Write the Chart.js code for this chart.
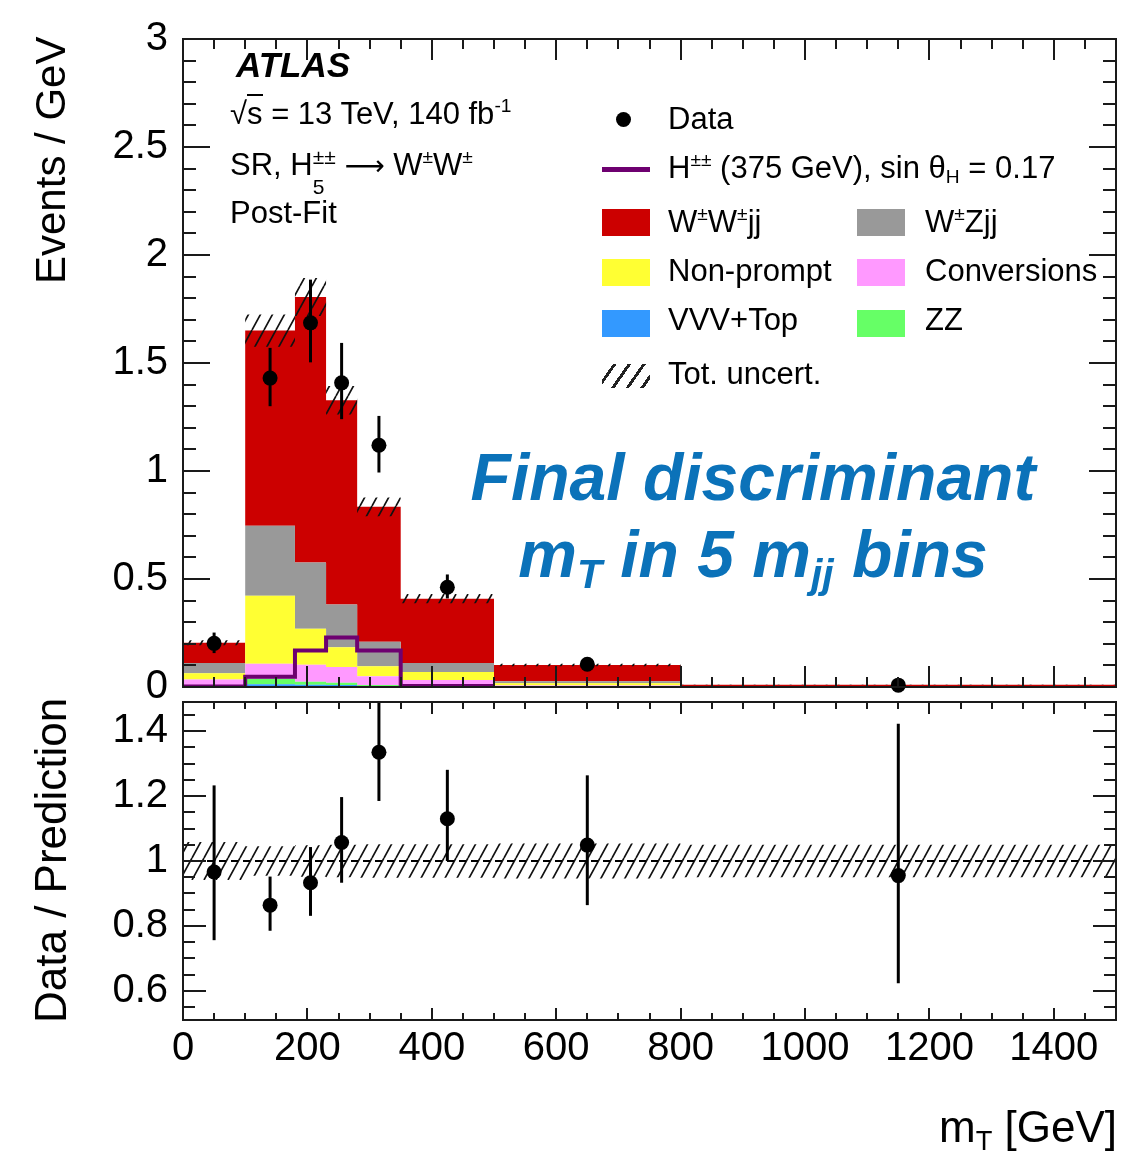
<!DOCTYPE html>
<html>
<head>
<meta charset="utf-8">
<script src="https://cdn.jsdelivr.net/npm/chart.js@4.4.1/dist/chart.umd.min.js"></script>
<style>
  html, body { margin: 0; padding: 0; background: #fff; }
  #wrap { position: relative; width: 1143px; height: 1154px; overflow: hidden; background: #fff; }
  canvas { position: absolute; left: 0; top: 0; }
  .t { position: absolute; white-space: nowrap; line-height: 1; color: #000;
       font-family: "Liberation Sans", Arial, Helvetica, sans-serif; font-size: 31px; }
  .t sup { font-size: 0.62em; vertical-align: 0.62em; line-height: 0; }
  .t sub { font-size: 0.62em; vertical-align: -0.28em; line-height: 0; }
  .ss { display: inline-block; font-size: 21px; line-height: 30px; vertical-align: -19px; }
  .arrow { font-family: "DejaVu Sans", sans-serif; font-size: 28px; }
  .sw { position: absolute; width: 48px; height: 27px; }
  .rot { transform-origin: left top; transform: rotate(-90deg); }
</style>
</head>
<body>
<div id="wrap">
  <canvas id="ratio" width="1143" height="1154"></canvas>
  <canvas id="main" width="1143" height="1154"></canvas>

  <!-- labels -->
  <div class="t" style="left:236px;top:47px;font-size:35px;font-weight:bold;font-style:italic;">ATLAS</div>
  <div class="t" style="left:230px;top:98px;">√<span style="border-top:2px solid #000;">s</span> = 13 TeV, 140 fb<sup>-1</sup></div>
  <div class="t" style="left:230px;top:142px;">SR, H<span class="ss">±±<br>5</span> <span class="arrow">⟶</span> W<sup>±</sup>W<sup>±</sup></div>
  <div class="t" style="left:230px;top:197px;">Post-Fit</div>

  <!-- legend -->
  <div style="position:absolute;left:616px;top:112px;width:15px;height:15px;border-radius:50%;background:#000;"></div>
  <div class="t" style="left:668px;top:103px;">Data</div>
  <div style="position:absolute;left:602px;top:167px;width:48px;height:5px;background:#6e0070;"></div>
  <div class="t" style="left:668px;top:152px;">H<sup>±±</sup> (375 GeV), sin θ<sub>H</sub> = 0.17</div>
  <div class="sw" style="left:602px;top:209px;background:#cc0000;"></div>
  <div class="t" style="left:668px;top:206px;">W<sup>±</sup>W<sup>±</sup>jj</div>
  <div class="sw" style="left:857px;top:209px;background:#999999;"></div>
  <div class="t" style="left:925px;top:206px;">W<sup>±</sup>Zjj</div>
  <div class="sw" style="left:602px;top:259px;background:#ffff33;"></div>
  <div class="t" style="left:668px;top:255px;">Non-prompt</div>
  <div class="sw" style="left:857px;top:259px;background:#ff99ff;"></div>
  <div class="t" style="left:925px;top:255px;">Conversions</div>
  <div class="sw" style="left:602px;top:310px;background:#3399ff;"></div>
  <div class="t" style="left:668px;top:304px;">VVV+Top</div>
  <div class="sw" style="left:857px;top:310px;background:#66ff66;"></div>
  <div class="t" style="left:925px;top:304px;">ZZ</div>
  <div class="sw" style="left:602px;top:364px;height:24px;background:repeating-linear-gradient(125deg, transparent 0 9px, #222 9px 12px);"></div>
  <div class="t" style="left:668px;top:358px;">Tot. uncert.</div>

  <!-- blue note -->
  <div class="t" style="left:353px;width:800px;text-align:center;top:444px;font-size:66px;font-weight:bold;font-style:italic;color:#0b72b9;">Final discriminant</div>
  <div class="t" style="left:353px;width:800px;text-align:center;top:521px;font-size:66px;font-weight:bold;font-style:italic;color:#0b72b9;">m<sub>T</sub> in 5 m<sub>jj</sub> bins</div>

  <!-- axis titles -->
  <div class="t rot" style="left:30px;top:284px;font-size:42px;">Events / GeV</div>
  <div class="t rot" style="left:29px;top:1023px;font-size:44px;">Data / Prediction</div>
  <div class="t" style="right:26px;top:1105px;font-size:44px;">m<sub>T</sub> [GeV]</div>
</div>

<script>
// ---------- DATA ----------
const binEdges = [0, 100, 180, 230, 280, 350, 500, 800, 1500];
const xTickLabels = [0, 200, 400, 600, 800, 1000, 1200, 1400];
const mainYTicks = [0, 0.5, 1, 1.5, 2, 2.5, 3];
const ratioYTicks = [0.6, 0.8, 1, 1.2, 1.4];

// backgrounds in events / GeV, stacked from the bottom up
const vvvTop = [0.004, 0.013, 0.010, 0.009, 0.005, 0.004, 0.001, 0.0002];
const zz = [0.004, 0.025, 0.014, 0.011, 0.004, 0.003, 0.001, 0.0002];
const conversions = [0.027, 0.070, 0.079, 0.073, 0.041, 0.025, 0.005, 0.0005];
const nonPrompt = [0.029, 0.315, 0.167, 0.091, 0.046, 0.038, 0.010, 0.0010];
const wzjj = [0.047, 0.323, 0.306, 0.198, 0.114, 0.041, 0.010, 0.0011];
const wwjj = [0.094, 0.904, 1.230, 0.946, 0.624, 0.298, 0.075, 0.0070];
const totUnc = [0.012, 0.075, 0.088, 0.066, 0.043, 0.021, 0.0055, 0.0005];

// signal H++ (375 GeV), not stacked
const signal = [0.002, 0.047, 0.169, 0.229, 0.169, 0.005, null, null];

// data
const dataY = [0.202, 1.430, 1.686, 1.408, 1.119, 0.462, 0.105, 0.0086];
const dataUp = [0.050, 0.140, 0.200, 0.185, 0.136, 0.059, 0.019, 0.0035];
const dataDn = [0.045, 0.130, 0.183, 0.168, 0.126, 0.052, 0.018, 0.0030];

// data / prediction
const ratioY = [0.966, 0.864, 0.933, 1.057, 1.335, 1.130, 1.049, 0.955];
const ratioHi = [1.233, 0.952, 1.043, 1.197, 1.490, 1.281, 1.264, 1.423];
const ratioLo = [0.756, 0.785, 0.831, 0.933, 1.185, 1.000, 0.864, 0.623];

// ---------- HELPERS ----------
const nBins = binEdges.length - 1;
const binCenters = binEdges.slice(0, -1).map((e, i) => (e + binEdges[i + 1]) / 2);

// histogram as stepped line: one point per left edge + closing point
function stepPoints(values) {
  const pts = [];
  let last = null;
  for (let i = 0; i < nBins; i++) {
    if (values[i] === null) break;
    pts.push({ x: binEdges[i], y: values[i] });
    last = i;
  }
  pts.push({ x: binEdges[last + 1], y: values[last] });
  return pts;
}

const components = [vvvTop, zz, conversions, nonPrompt, wzjj, wwjj];
const colors = ["#3399ff", "#66ff66", "#ff99ff", "#ffff33", "#999999", "#cc0000"];
const cumulative = [];
components.forEach((c, k) => {
  cumulative.push(c.map((v, i) => v + (k > 0 ? cumulative[k - 1][i] : 0)));
});
const total = cumulative[cumulative.length - 1];
const relUnc = total.map((t, i) => totUnc[i] / t);

function hatch() {
  const w = 12, h = 22;
  const c = document.createElement("canvas");
  c.width = w;
  c.height = h;
  const g = c.getContext("2d");
  g.strokeStyle = "#111";
  g.lineWidth = 1.7;
  g.beginPath();
  for (let k = -1; k <= 1; k++) {
    g.moveTo(k * w, h);
    g.lineTo(k * w + w, 0);
  }
  g.stroke();
  return document.getElementById("main").getContext("2d").createPattern(c, "repeat");
}
const pattern = hatch();

// ---------- PLUGINS ----------
const errorBars = {
  id: "errorBars",
  afterDatasetsDraw(chart, args, o) {
    const { ctx, chartArea: a, scales } = chart;
    ctx.save();
    ctx.beginPath();
    ctx.rect(a.left, a.top, a.right - a.left, a.bottom - a.top);
    ctx.clip();
    ctx.strokeStyle = "#000";
    ctx.lineWidth = 3;
    o.xs.forEach((xv, i) => {
      const px = scales.x.getPixelForValue(xv);
      ctx.beginPath();
      ctx.moveTo(px, scales.y.getPixelForValue(o.lo[i]));
      ctx.lineTo(px, scales.y.getPixelForValue(o.hi[i]));
      ctx.stroke();
    });
    ctx.restore();
  },
};

function isMultiple(v, step) {
  return Math.abs(v / step - Math.round(v / step)) < 1e-6;
}

const frameTicks = {
  id: "frameTicks",
  afterDraw(chart, args, o) {
    const { ctx, chartArea: a, scales } = chart;
    const x = scales.x, y = scales.y;
    ctx.save();
    ctx.strokeStyle = "#1a1a1a";
    ctx.lineWidth = 2;
    ctx.beginPath();
    for (let v = Math.ceil(x.min / o.xMinor) * o.xMinor; v <= x.max + 1e-9; v += o.xMinor) {
      const len = isMultiple(v, o.xMajor) ? o.xLen[0] : o.xLen[1];
      const px = Math.round(x.getPixelForValue(v));
      ctx.moveTo(px, a.bottom);
      ctx.lineTo(px, a.bottom - len);
      ctx.moveTo(px, a.top);
      ctx.lineTo(px, a.top + len);
    }
    for (let k = Math.ceil(y.min / o.yMinor - 1e-6); k * o.yMinor <= y.max + 1e-9; k++) {
      const v = k * o.yMinor;
      const len = isMultiple(v, o.yMajor) ? o.yLen[0] : o.yLen[1];
      const py = Math.round(y.getPixelForValue(v));
      ctx.moveTo(a.left, py);
      ctx.lineTo(a.left + len, py);
      ctx.moveTo(a.right, py);
      ctx.lineTo(a.right - len, py);
    }
    ctx.stroke();
    ctx.strokeRect(a.left, a.top, a.right - a.left, a.bottom - a.top);
    ctx.restore();
  },
};

Chart.defaults.font.family = '"Liberation Sans", Arial, Helvetica, sans-serif';
Chart.defaults.color = "#000";

const tickFont = { size: 40 };
const yAxisBase = {
  afterFit: (s) => { s.width = 183; },
  grid: { display: false, drawTicks: false },
  border: { display: false },
  ticks: { font: tickFont, padding: 15, callback: (v) => String(v) },
};

// ---------- MAIN PANEL ----------
const stackSets = components.map((c, k) => ({
  label: "stack" + k,
  data: stepPoints(cumulative[k]),
  stepped: "before",
  borderWidth: 0,
  pointRadius: 0,
  backgroundColor: colors[k],
  fill: k === 0 ? "origin" : "-1",
  order: 10 + k,
}));

new Chart(document.getElementById("main"), {
  type: "line",
  data: {
    datasets: [
      ...stackSets,
      {
        label: "uncLo",
        data: stepPoints(total.map((t, i) => t - totUnc[i])),
        stepped: "before",
        borderWidth: 0,
        pointRadius: 0,
        fill: false,
        order: 3,
      },
      {
        label: "uncHi",
        data: stepPoints(total.map((t, i) => t + totUnc[i])),
        stepped: "before",
        borderWidth: 0,
        pointRadius: 0,
        backgroundColor: pattern,
        fill: "-1",
        order: 2,
      },
      {
        label: "signal",
        data: stepPoints(signal),
        stepped: "before",
        borderColor: "#6e0070",
        borderWidth: 4,
        pointRadius: 0,
        fill: false,
        order: 1,
      },
      {
        label: "Data",
        data: binCenters.map((x, i) => ({ x, y: dataY[i] })),
        showLine: false,
        pointRadius: 7.5,
        pointBorderWidth: 0,
        pointBackgroundColor: "#000",
        clip: false,
        order: 0,
      },
    ],
  },
  options: {
    responsive: false,
    animation: false,
    layout: { padding: { left: 0, right: 27, top: 29, bottom: 467 } },
    plugins: {
      legend: { display: false },
      tooltip: { enabled: false },
      errorBars: {
        xs: binCenters,
        lo: dataY.map((v, i) => v - dataDn[i]),
        hi: dataY.map((v, i) => v + dataUp[i]),
      },
      frameTicks: { xMajor: 200, xMinor: 50, xLen: [21, 10], yMajor: 0.5, yMinor: 0.1, yLen: [27, 13] },
    },
    scales: {
      x: { type: "linear", min: 0, max: 1500, display: false },
      y: {
        ...yAxisBase,
        min: 0,
        max: 3,
        afterBuildTicks: (s) => { s.ticks = mainYTicks.map((v) => ({ value: v })); },
      },
    },
  },
  plugins: [errorBars, frameTicks],
});

// ---------- RATIO PANEL ----------
new Chart(document.getElementById("ratio"), {
  type: "line",
  data: {
    datasets: [
      {
        label: "bandLo",
        data: stepPoints(relUnc.map((r) => 1 - r)),
        stepped: "before",
        borderWidth: 0,
        pointRadius: 0,
        fill: false,
        order: 3,
      },
      {
        label: "bandHi",
        data: stepPoints(relUnc.map((r) => 1 + r)),
        stepped: "before",
        borderWidth: 0,
        pointRadius: 0,
        backgroundColor: pattern,
        fill: "-1",
        order: 2,
      },
      {
        label: "unity",
        data: [{ x: binEdges[0], y: 1 }, { x: binEdges[nBins], y: 1 }],
        borderColor: "#000",
        borderWidth: 2,
        borderDash: [7, 5],
        pointRadius: 0,
        fill: false,
        order: 1,
      },
      {
        label: "ratio",
        data: binCenters.map((x, i) => ({ x, y: ratioY[i] })),
        showLine: false,
        pointRadius: 7.5,
        pointBorderWidth: 0,
        pointBackgroundColor: "#000",
        order: 0,
      },
    ],
  },
  options: {
    responsive: false,
    animation: false,
    layout: { padding: { left: 0, right: 27, top: 702, bottom: 0 } },
    plugins: {
      legend: { display: false },
      tooltip: { enabled: false },
      errorBars: { xs: binCenters, lo: ratioLo, hi: ratioHi },
      frameTicks: { xMajor: 200, xMinor: 50, xLen: [12, 7], yMajor: 0.2, yMinor: 0.05, yLen: [23, 12] },
    },
    scales: {
      x: {
        type: "linear",
        min: 0,
        max: 1500,
        afterFit: (s) => { s.height = 134; },
        afterBuildTicks: (s) => { s.ticks = xTickLabels.map((v) => ({ value: v })); },
        grid: { display: false, drawTicks: false },
        border: { display: false },
        ticks: { font: tickFont, padding: 5, maxRotation: 0, autoSkip: false, callback: (v) => String(v) },
      },
      y: {
        ...yAxisBase,
        min: 0.51,
        max: 1.49,
        afterBuildTicks: (s) => { s.ticks = ratioYTicks.map((v) => ({ value: v })); },
      },
    },
  },
  plugins: [errorBars, frameTicks],
});
</script>
</body>
</html>
